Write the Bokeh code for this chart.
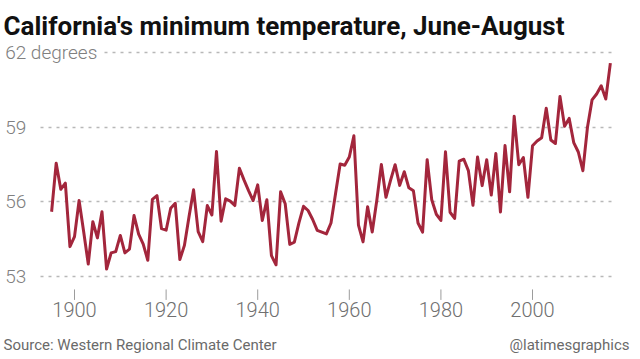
from bokeh.plotting import figure
from bokeh.models import Label, Range1d, FixedTicker
from bokeh.core.properties import value
from bokeh.embed import file_html
from bokeh.resources import INLINE

# ---- data ----
years = list(range(1895, 2018))
temps = [
    55.6, 57.55, 56.5, 56.75, 54.2,            # 1895-1899
    54.6, 56.05, 54.8, 53.5, 55.2,             # 1900-1904
    54.55, 55.6, 53.3, 53.95, 54.0,            # 1905-1909
    54.65, 53.95, 54.1, 55.45, 54.7,           # 1910-1914
    54.3, 53.65, 56.1, 56.25, 54.92,           # 1915-1919
    54.86, 55.74, 55.94, 53.68, 54.25,         # 1920-1924
    55.4, 56.48, 54.8, 54.4, 55.85,            # 1925-1929
    55.47, 58.02, 55.22, 56.12, 56.03,         # 1930-1934
    55.85, 57.35, 56.88, 56.45, 56.05,         # 1935-1939
    56.68, 55.25, 56.08, 53.84, 53.47,         # 1940-1944
    56.4, 55.92, 54.29, 54.38, 55.15,          # 1945-1949
    55.82, 55.65, 55.29, 54.85, 54.78,         # 1950-1954
    54.71, 55.15, 56.33, 57.52, 57.47,         # 1955-1959
    57.8, 58.65, 55.06, 54.39, 55.8,           # 1960-1964
    54.79, 56.05, 57.5, 56.18, 56.86,          # 1965-1969
    57.49, 56.66, 57.21, 56.56, 56.44,         # 1970-1974
    55.15, 54.78, 57.69, 56.08, 55.5,          # 1975-1979
    55.25, 58.01, 55.58, 55.33, 57.63,         # 1980-1984
    57.71, 57.25, 55.86, 57.8, 56.65,          # 1985-1989
    57.69, 56.27, 57.94, 55.59, 58.26,         # 1990-1994
    56.4, 59.44, 57.49, 57.78, 56.18,          # 1995-1999
    58.25, 58.44, 58.57, 59.76, 58.48,         # 2000-2004
    58.34, 60.23, 59.03, 59.35, 58.38,         # 2005-2009
    58.0, 57.25, 58.99, 60.09, 60.33,          # 2010-2014
    60.66, 60.13, 61.57,                       # 2015-2017
]
x_ticks = [1900, 1920, 1940, 1960, 1980, 2000]
x_tick_labels = ["1900", "1920", "1940", "1960", "1980", "2000"]
y_ticks = [53, 56, 59, 62]
y_tick_labels = ["53", "56", "59", "62 degrees"]
title_text = "California's minimum temperature, June-August"
source_text = "Source: Western Regional Climate Center"
credit_text = "@latimesgraphics"

LINE_COLOR = "#a3263c"
LIGHT_FONT = "Roboto Light"

# The plot area covers the whole canvas; ranges chosen so that the
# data area matches the reference layout (1 year = 4.58 px, 1 deg = 24.9 px)
X0, X1 = 1883.84, 2023.58
Y0, Y1 = 49.667, 64.084
p = figure(width=640, height=359, output_backend="svg", toolbar_location=None,
           x_range=Range1d(X0, X1), y_range=Range1d(Y0, Y1),
           x_axis_location=None, y_axis_location=None,
           min_border=0)
p.outline_line_color = None
p.background_fill_color = "white"
p.border_fill_color = "white"

# horizontal grid lines
p.xgrid.grid_line_color = None
p.ygrid.ticker = FixedTicker(ticks=y_ticks)
p.ygrid.grid_line_color = "#b8b8b8"
p.ygrid.grid_line_width = 1.5
p.ygrid.grid_line_dash = "3 5"
p.ygrid.cross_bounds = (1892.58, 2018.34)

# data line
p.line(years, temps, line_color=LINE_COLOR, line_width=3, line_join="round")

# x ticks and labels
tick_top, tick_bottom = 52.48, 52.06
p.segment(x0=x_ticks, x1=x_ticks, y0=[tick_top] * len(x_ticks),
          y1=[tick_bottom] * len(x_ticks), line_color="#9c9c9c", line_width=1)
p.text(x=x_ticks, y=[51.68] * len(x_ticks), text=x_tick_labels,
       text_align="center", text_baseline="middle",
       text_font=value(LIGHT_FONT), text_font_size="20px",
       text_color="#707070")

# y labels (white box hides the grid line behind them)
for v, t in zip(y_ticks, y_tick_labels):
    p.add_layout(Label(x=1884.2, y=v, text=t,
                       text_font=LIGHT_FONT, text_font_size="19px",
                       text_color="#808080", text_baseline="middle",
                       text_align="left", background_fill_color="white",
                       padding=3))

# title and footer
p.add_layout(Label(x=1884.5, y=63.08, text=title_text,
                   text_font="Roboto", text_font_style="bold",
                   text_font_size="26px", text_color="#111111",
                   text_baseline="alphabetic", text_align="left"))
p.add_layout(Label(x=1884.5, y=50.23, text=source_text,
                   text_font="Roboto", text_font_size="15px",
                   text_color="#6a6a6a", text_baseline="alphabetic",
                   text_align="left"))
p.add_layout(Label(x=2021.18, y=50.23, text=credit_text,
                   text_font="Roboto", text_font_size="15px",
                   text_color="#6a6a6a", text_baseline="alphabetic",
                   text_align="right"))

open("out.html", "w").write(file_html(p, INLINE))
